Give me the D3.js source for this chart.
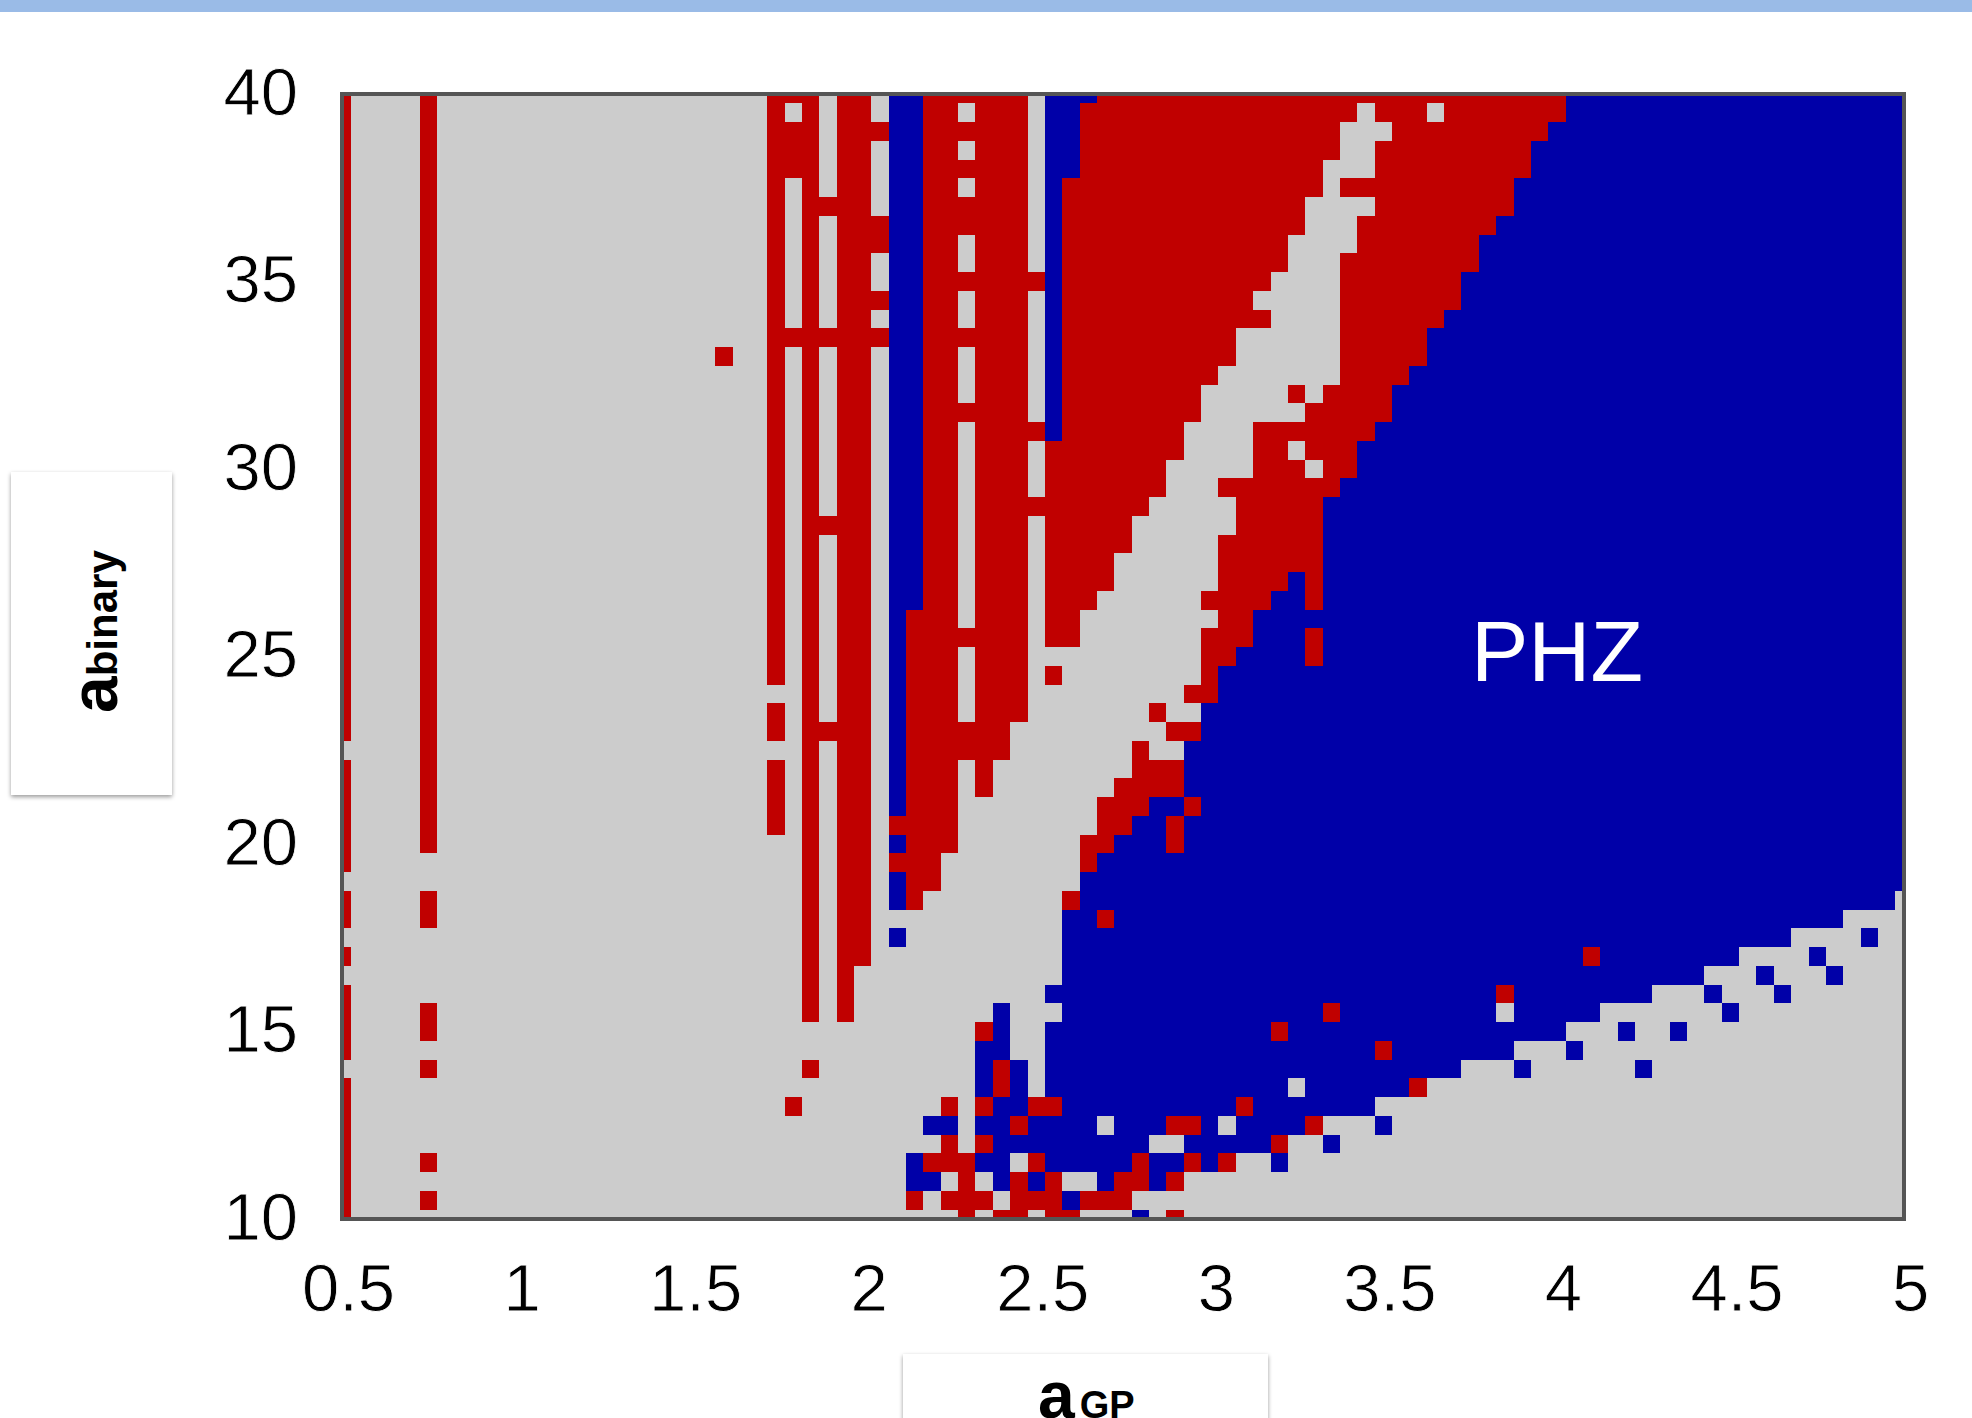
<!DOCTYPE html>
<html lang="en">
<head>
    <meta charset="UTF-8">
    <script src="https://d3js.org/d3.v7.min.js"></script>
    <title>PHZ stability map</title>
    <style>
        body {
            margin: 0;
            background: #fff;
        }
        svg {
            display: block;
        }
        .tick text {
            font-family: "Liberation Sans", Arial, sans-serif;
            font-size: 67px;
            fill: #000;
            stroke: #fff;
            stroke-width: 0.8px;
        }
        .axis-title {
            font-family: "Liberation Sans", Arial, sans-serif;
            font-weight: bold;
            fill: #000;
        }
    </style>
</head>
<body>
    <svg id="chart" width="1972" height="1418"></svg>

    <script>
        const xTicks = [0.5, 1, 1.5, 2, 2.5, 3, 3.5, 4, 4.5, 5];
        const yTicks = [10, 15, 20, 25, 30, 35, 40];
        const outcomes = ["g", "r", "b"];
        const outcomeColors = ["#cccccc", "#c00000", "#0000a8"];

        // one string per a_binary row from 40 down to 10 (step 0.5)
        // each token is the a_GP column index (step 0.05 from 0.5) where a run starts, plus its outcome
        const runs = [
            "0r 1g 5r 6g 25r 28g 29r 31g 32b 34r 40g 41b 44r 71b",
            "0r 1g 5r 6g 25r 26g 27r 28g 29r 31g 32b 34r 36g 37r 40g 41b 43r 59g 60r 63g 64r 71b",
            "0r 1g 5r 6g 25r 28g 29r 32b 34r 40g 41b 43r 58g 61r 70b",
            "0r 1g 5r 6g 25r 28g 29r 31g 32b 34r 36g 37r 40g 41b 43r 58g 60r 69b",
            "0r 1g 5r 6g 25r 28g 29r 31g 32b 34r 40g 41b 43r 57g 60r 69b",
            "0r 1g 5r 6g 25r 26g 27r 28g 29r 31g 32b 34r 36g 37r 40g 41b 42r 57g 58r 68b",
            "0r 1g 5r 6g 25r 26g 27r 31g 32b 34r 40g 41b 42r 56g 60r 68b",
            "0r 1g 5r 6g 25r 26g 27r 28g 29r 32b 34r 40g 41b 42r 56g 59r 67b",
            "0r 1g 5r 6g 25r 26g 27r 28g 29r 32b 34r 36g 37r 40g 41b 42r 55g 59r 66b",
            "0r 1g 5r 6g 25r 26g 27r 28g 29r 31g 32b 34r 36g 37r 40g 41b 42r 55g 58r 66b",
            "0r 1g 5r 6g 25r 26g 27r 28g 29r 31g 32b 34r 41b 42r 54g 58r 65b",
            "0r 1g 5r 6g 25r 26g 27r 28g 29r 32b 34r 36g 37r 40g 41b 42r 53g 58r 65b",
            "0r 1g 5r 6g 25r 26g 27r 28g 29r 31g 32b 34r 36g 37r 40g 41b 42r 54g 58r 64b",
            "0r 1g 5r 6g 25r 32b 34r 40g 41b 42r 52g 58r 63b",
            "0r 1g 5r 6g 22r 23g 25r 26g 27r 28g 29r 31g 32b 34r 36g 37r 40g 41b 42r 52g 58r 63b",
            "0r 1g 5r 6g 25r 26g 27r 28g 29r 31g 32b 34r 36g 37r 40g 41b 42r 51g 58r 62b",
            "0r 1g 5r 6g 25r 26g 27r 28g 29r 31g 32b 34r 36g 37r 40g 41b 42r 50g 55r 56g 57r 61b",
            "0r 1g 5r 6g 25r 26g 27r 28g 29r 31g 32b 34r 40g 41b 42r 50g 56r 61b",
            "0r 1g 5r 6g 25r 26g 27r 28g 29r 31g 32b 34r 36g 37r 41b 42r 49g 53r 60b",
            "0r 1g 5r 6g 25r 26g 27r 28g 29r 31g 32b 34r 36g 37r 40g 41r 49g 53r 55g 56r 59b",
            "0r 1g 5r 6g 25r 26g 27r 28g 29r 31g 32b 34r 36g 37r 40g 41r 48g 53r 56g 57r 59b",
            "0r 1g 5r 6g 25r 26g 27r 28g 29r 31g 32b 34r 36g 37r 40g 41r 48g 51r 58b",
            "0r 1g 5r 6g 25r 26g 27r 28g 29r 31g 32b 34r 36g 37r 47g 52r 57b",
            "0r 1g 5r 6g 25r 26g 27r 31g 32b 34r 36g 37r 40g 41r 46g 52r 57b",
            "0r 1g 5r 6g 25r 26g 27r 28g 29r 31g 32b 34r 36g 37r 40g 41r 46g 51r 57b",
            "0r 1g 5r 6g 25r 26g 27r 28g 29r 31g 32b 34r 36g 37r 40g 41r 45g 51r 57b",
            "0r 1g 5r 6g 25r 26g 27r 28g 29r 31g 32b 34r 36g 37r 40g 41r 45g 51r 55b 56r 57b",
            "0r 1g 5r 6g 25r 26g 27r 28g 29r 31g 32b 34r 36g 37r 40g 41r 44g 50r 54b 56r 57b",
            "0r 1g 5r 6g 25r 26g 27r 28g 29r 31g 32b 33r 36g 37r 40g 41r 43g 51r 53b",
            "0r 1g 5r 6g 25r 26g 27r 28g 29r 31g 32b 33r 40g 41r 43g 50r 53b 56r 57b",
            "0r 1g 5r 6g 25r 26g 27r 28g 29r 31g 32b 33r 36g 37r 40g 50r 52b 56r 57b",
            "0r 1g 5r 6g 25r 26g 27r 28g 29r 31g 32b 33r 36g 37r 40g 41r 42g 50r 51b",
            "0r 1g 5r 6g 27r 28g 29r 31g 32b 33r 36g 37r 40g 49r 51b",
            "0r 1g 5r 6g 25r 26g 27r 28g 29r 31g 32b 33r 36g 37r 40g 47r 48g 50b",
            "0r 1g 5r 6g 25r 26g 27r 31g 32b 33r 39g 48r 50b",
            "0g 5r 6g 27r 28g 29r 31g 32b 33r 39g 46r 47g 49b",
            "0r 1g 5r 6g 25r 26g 27r 28g 29r 31g 32b 33r 36g 37r 38g 46r 49b",
            "0r 1g 5r 6g 25r 26g 27r 28g 29r 31g 32b 33r 36g 37r 38g 45r 49b",
            "0r 1g 5r 6g 25r 26g 27r 28g 29r 31g 32b 33r 36g 44r 47b 49r 50b",
            "0r 1g 5r 6g 25r 26g 27r 28g 29r 31g 32r 36g 44r 46b 48r 49b",
            "0r 1g 5r 6g 27r 28g 29r 31g 32b 33r 36g 43r 45b 48r 49b",
            "0r 1g 27r 28g 29r 31g 32r 35g 43r 44b",
            "0g 27r 28g 29r 31g 32b 33r 35g 43b",
            "0r 1g 5r 6g 27r 28g 29r 31g 32b 33r 34g 42r 43b 90g",
            "0r 1g 5r 6g 27r 28g 29r 31g 42b 44r 45b 87g",
            "0g 27r 28g 29r 31g 32b 33g 42b 84g 88b 89g",
            "0r 1g 27r 28g 29r 31g 42b 72r 73b 81g 85b 86g",
            "0g 27r 28g 29r 30g 42b 79g 82b 83g 86b 87g",
            "0r 1g 27r 28g 29r 30g 41b 67r 68b 76g 79b 80g 83b 84g",
            "0r 1g 5r 6g 27r 28g 29r 30g 38b 39g 42b 57r 58b 67g 68b 73g 80b 81g",
            "0r 1g 5r 6g 37r 38b 39g 41b 54r 55b 71g 74b 75g 77b 78g",
            "0r 1g 37b 39g 41b 60r 61b 68g 71b 72g",
            "0g 5r 6g 27r 28g 37b 38r 39b 40g 41b 65g 68b 69g 75b 76g",
            "0r 1g 37b 38r 39b 40g 41b 55g 56b 62r 63g",
            "0r 1g 26r 27g 35r 36g 37r 38b 40r 42b 52r 53b 60g",
            "0r 1g 34b 36g 37b 39r 40b 44g 45b 48r 50b 51g 52b 56r 57g 60b 61g",
            "0r 1g 35r 36g 37r 38b 47g 49b 54r 55g 57b 58g",
            "0r 1g 5r 6g 33b 34r 37b 39g 40r 41b 46r 47b 49r 50b 51r 52g 54b 55g",
            "0r 1g 33b 35g 36r 37g 38b 39r 40b 41r 42g 44b 45r 47b 48r 49g",
            "0r 1g 5r 6g 33r 34g 35r 38g 39r 42b 43r 46g",
            "0r 1g 36r 37g 38r 40g 41r 43g 46b 47g 48r 49g"
        ];

        const svg = d3.select("#chart");
        const plot = { left: 342, right: 1904, top: 94, bottom: 1219 };

        const x = d3.scaleLinear().domain([0.5, 5]).range([plot.left, plot.right]);
        const y = d3.scaleLinear().domain([10, 40]).range([plot.bottom, plot.top]);
        const color = d3.scaleOrdinal().domain(outcomes).range(outcomeColors);

        const cellW = x(0.55) - x(0.5);
        const cellH = y(10) - y(10.5);

        // expand the run strings to one record per grid node
        const cells = [];
        runs.forEach((row, r) => {
            const tokens = row.split(" ").map(t => ({ start: parseInt(t), code: t.slice(-1) }));
            tokens.forEach((t, k) => {
                const end = k + 1 < tokens.length ? tokens[k + 1].start : 91;
                for (let c = t.start; c < end; c++) {
                    cells.push({ agp: 0.5 + 0.05 * c, abin: 40 - 0.5 * r, code: t.code });
                }
            });
        });

        const defs = svg.append("defs");
        defs.append("clipPath").attr("id", "plot-clip")
            .append("rect")
            .attr("x", plot.left)
            .attr("y", plot.top)
            .attr("width", plot.right - plot.left)
            .attr("height", plot.bottom - plot.top);
        defs.append("filter").attr("id", "box-shadow")
            .attr("x", "-10%").attr("y", "-10%").attr("width", "120%").attr("height", "120%")
            .append("feDropShadow")
            .attr("dx", 0).attr("dy", 2).attr("stdDeviation", 2)
            .attr("flood-color", "#000").attr("flood-opacity", 0.4);

        // band along the top of the slide
        svg.append("rect")
            .attr("width", 1972).attr("height", 12)
            .attr("fill", "#9abbe7");

        svg.append("g")
            .attr("clip-path", "url(#plot-clip)")
            .attr("shape-rendering", "crispEdges")
            .selectAll("rect")
            .data(cells)
            .enter()
            .append("rect")
            .attr("x", d => x(d.agp) - cellW / 2)
            .attr("y", d => y(d.abin) - cellH / 2)
            .attr("width", cellW + 0.5)
            .attr("height", cellH + 0.5)
            .attr("fill", d => color(d.code));

        svg.append("rect")
            .attr("x", plot.left)
            .attr("y", plot.top)
            .attr("width", plot.right - plot.left)
            .attr("height", plot.bottom - plot.top)
            .attr("fill", "none")
            .attr("stroke", "#555")
            .attr("stroke-width", 4);

        const xAxis = svg.append("g")
            .attr("transform", `translate(6,${plot.bottom})`)
            .call(d3.axisBottom(x).tickValues(xTicks).tickSize(0).tickPadding(44).tickFormat(d => d));
        xAxis.select(".domain").remove();

        const yAxis = svg.append("g")
            .attr("transform", `translate(${plot.left},-1)`)
            .call(d3.axisLeft(y).tickValues(yTicks).tickSize(0).tickPadding(44).tickFormat(d => d));
        yAxis.select(".domain").remove();

        // axis titles sit on white text boxes, as pasted in the slide
        svg.append("rect")
            .attr("x", 11).attr("y", 472)
            .attr("width", 161).attr("height", 323)
            .attr("fill", "#fff")
            .attr("filter", "url(#box-shadow)");
        svg.append("rect")
            .attr("x", 903).attr("y", 1354)
            .attr("width", 365).attr("height", 90)
            .attr("fill", "#fff")
            .attr("filter", "url(#box-shadow)");

        const yTitle = svg.append("text")
            .attr("class", "axis-title")
            .attr("transform", "translate(117,713) rotate(-90)");
        yTitle.append("tspan").attr("font-size", 66).text("a");
        yTitle.append("tspan").attr("font-size", 42).text("binary");

        const xTitle = svg.append("text")
            .attr("class", "axis-title")
            .attr("transform", "translate(1038,1418)");
        xTitle.append("tspan").attr("font-size", 66).text("a");
        xTitle.append("tspan").attr("font-size", 38).attr("dx", 5).text("GP");

        svg.append("text")
            .attr("x", 1471)
            .attr("y", 681)
            .attr("font-family", "'Liberation Sans', Arial, sans-serif")
            .attr("font-size", 86)
            .attr("fill", "#fff")
            .text("PHZ");
    </script>
</body>
</html>
